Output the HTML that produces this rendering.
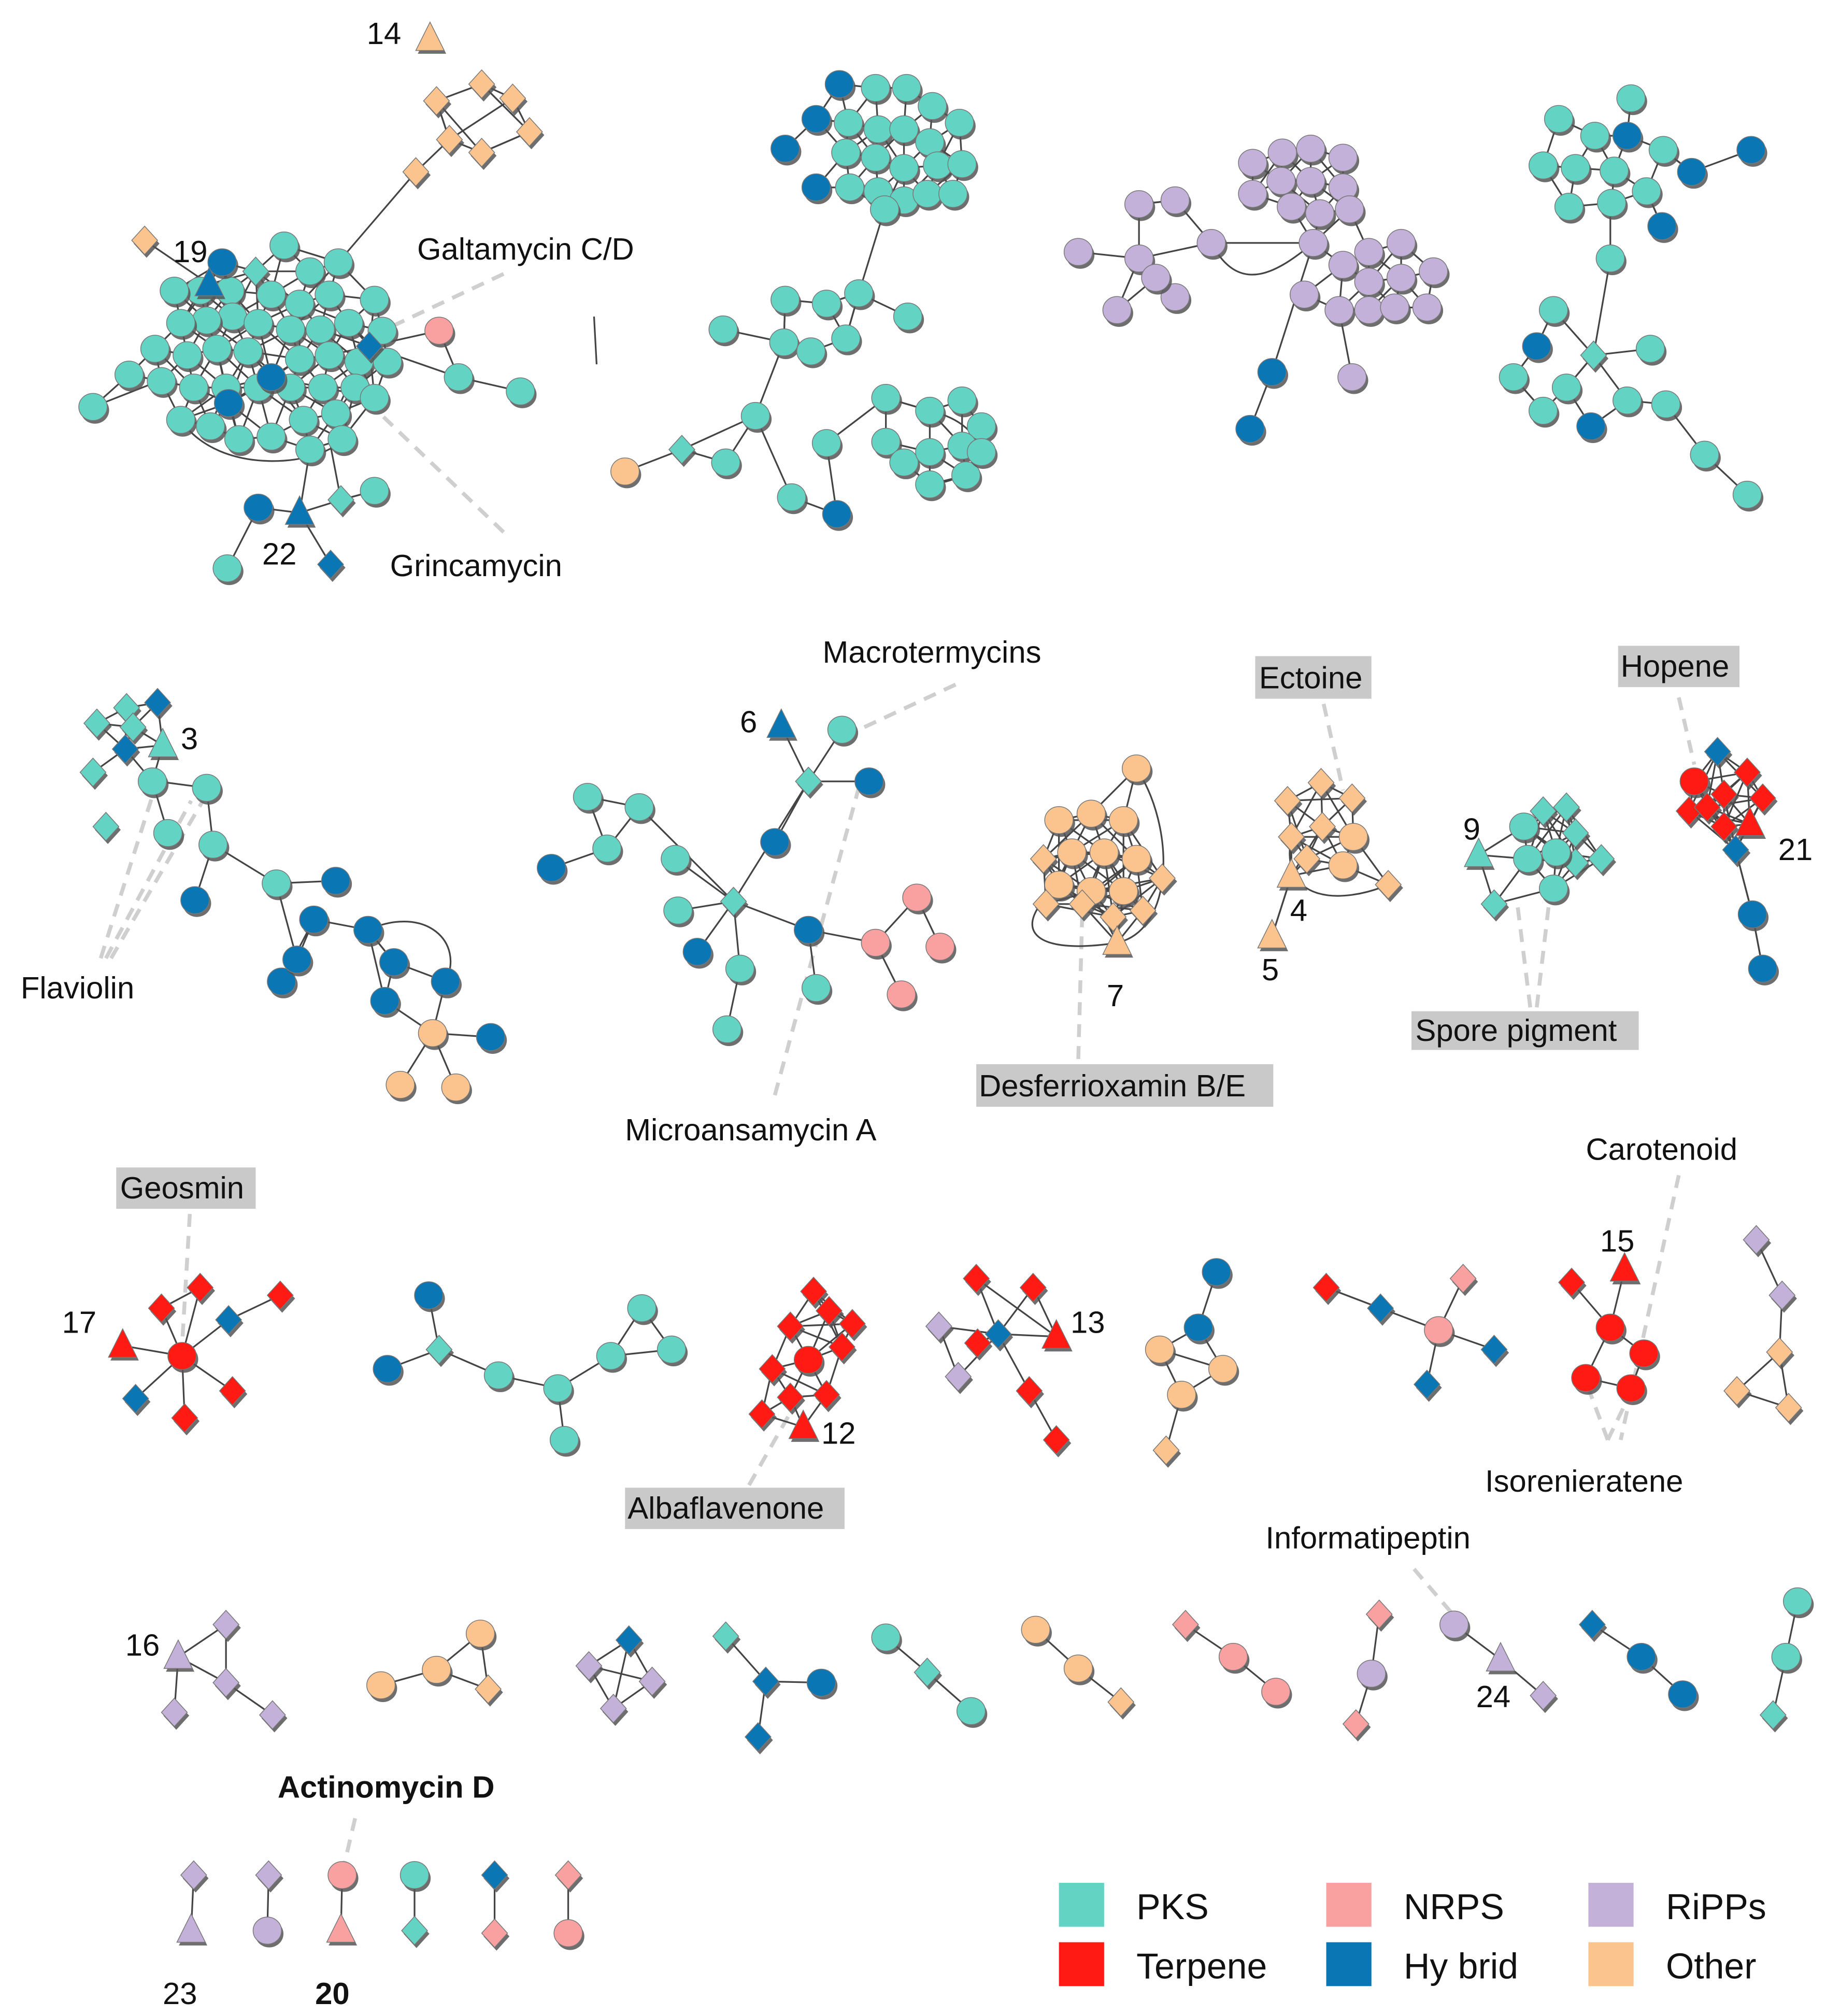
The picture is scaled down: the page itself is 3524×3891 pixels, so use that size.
<!DOCTYPE html>
<html><head><meta charset="utf-8">
<style>
html,body{margin:0;padding:0;background:#fff;}
svg{display:block;}
text{font-family:"Liberation Sans",sans-serif;}
</style></head>
<body>
<svg id="net" width="3524" height="3891" viewBox="0 0 1414 1561" xmlns="http://www.w3.org/2000/svg">
<g id="leaders" stroke="#cfcfcf" stroke-width="3" stroke-dasharray="10 7" fill="none">
<line x1="390" y1="212" x2="292" y2="258"/>
<line x1="390" y1="412" x2="292" y2="318"/>
<line x1="740" y1="530" x2="665" y2="565"/>
<line x1="600" y1="848" x2="665" y2="610"/>
<line x1="1025" y1="545" x2="1040" y2="612"/>
<line x1="1300" y1="540" x2="1312" y2="592"/>
<line x1="835" y1="820" x2="838" y2="710"/>
<line x1="1185" y1="780" x2="1175" y2="700"/>
<line x1="1190" y1="780" x2="1200" y2="695"/>
<line x1="78" y1="742" x2="120" y2="610"/>
<line x1="82" y1="742" x2="148" y2="620"/>
<line x1="86" y1="742" x2="160" y2="615"/>
<line x1="147" y1="940" x2="141" y2="1042"/>
<line x1="580" y1="1150" x2="620" y2="1080"/>
<line x1="1300" y1="910" x2="1255" y2="1115"/>
<line x1="1245" y1="1115" x2="1230" y2="1075"/>
<line x1="1245" y1="1115" x2="1262" y2="1080"/>
<line x1="1095" y1="1215" x2="1125" y2="1250"/>
<line x1="275" y1="1408" x2="267" y2="1442"/>
</g>
<g id="edges" stroke="#444" stroke-width="1.3" fill="none">
<path d="M938,188 C960,230 990,210 1017,188"/>
<path d="M820,685 C780,720 800,740 865,730"/>
<path d="M880,595 C910,640 910,720 865,730"/>
<path d="M1000,648 C990,700 1040,700 1075,685"/>
<path d="M720,318 C770,330 770,370 720,375"/>
<path d="M140,325 C170,370 250,360 265,340"/>
<path d="M285,720 C330,700 360,730 345,760"/>
</g>
<g id="nodes"></g>
<g id="labels" font-size="24" fill="#111">
<text x="284" y="34">14</text>
<text x="323" y="201">Galtamycin C/D</text>
<text x="134" y="203">19</text>
<text x="203" y="437">22</text>
<text x="302" y="446">Grincamycin</text>
<text x="637" y="513">Macrotermycins</text>
<text x="573" y="567">6</text>
<text x="140" y="580">3</text>
<text x="16" y="773">Flaviolin</text>
<text x="484" y="883">Microansamycin A</text>
<rect x="972" y="508" width="90" height="33" fill="#c9c9c9"/>
<text x="975" y="533">Ectoine</text>
<rect x="1253" y="500" width="94" height="32" fill="#c9c9c9"/>
<text x="1255" y="524">Hopene</text>
<text x="1133" y="650">9</text>
<text x="1377" y="666">21</text>
<text x="999" y="713">4</text>
<text x="977" y="759">5</text>
<text x="857" y="779">7</text>
<rect x="1093" y="783" width="176" height="30" fill="#c9c9c9"/>
<text x="1096" y="806">Spore pigment</text>
<rect x="756" y="824" width="230" height="33" fill="#c9c9c9"/>
<text x="758" y="849">Desferrioxamin B/E</text>
<text x="1228" y="898">Carotenoid</text>
<rect x="90" y="904" width="108" height="32" fill="#c9c9c9"/>
<text x="93" y="928">Geosmin</text>
<text x="1239" y="969">15</text>
<text x="48" y="1032">17</text>
<text x="829" y="1032">13</text>
<text x="636" y="1118">12</text>
<text x="1150" y="1155">Isorenieratene</text>
<rect x="484" y="1152" width="170" height="32" fill="#c9c9c9"/>
<text x="486" y="1176">Albaflavenone</text>
<text x="980" y="1199">Informatipeptin</text>
<text x="97" y="1282">16</text>
<text x="1143" y="1322">24</text>
<text x="215" y="1392" font-weight="bold">Actinomycin D</text>
<text x="126" y="1552">23</text>
<text x="244" y="1552" font-weight="bold">20</text>
</g>
<g id="legend" font-size="28" fill="#111"></g>
</svg>
<script>
const typeKeys = ['P','T','N','H','R','O'];
const typeNames = ['PKS','Terpene','NRPS','Hy brid','RiPPs','Other'];
const typeColors = ['#63d4c3','#ff1a14','#f9a1a1','#0a76b3','#c3b1da','#fbc48e'];
const clusters = [
 {id:'cluster-grincamycin',th:44,n:"Ot333,30 Od338,78 Od373,65 Od397,76 Od410,102 Od373,118 Od348,108 Od322,133 Od112,186 Pc220,190 Pc240,210 Pc262,203 Pd198,210 Pc178,225 Pc155,225 Pc135,225 Pc210,228 Pc232,235 Pc255,228 Pc180,245 Pc160,248 Pc140,250 Pc200,250 Pc225,255 Pc248,255 Pc270,250 Pc290,232 Pc296,256 Pc120,270 Pc145,275 Pc168,270 Pc192,272 Pc232,278 Pc255,275 Pc278,280 Pc300,280 Pc100,290 Pc125,295 Pc150,300 Pc175,300 Pc200,300 Pc225,300 Pc250,300 Pc275,300 Pc290,308 Pc140,325 Pc163,330 Pc185,340 Pc210,338 Pc235,325 Pc260,320 Pc240,348 Pc265,340 Pc72,315 Pc355,292 Pc403,303 Pc290,380 Pc176,440 Hc172,203 Hc210,292 Hc177,312 Hc200,393 Ht162,220 Hd286,268 Ht232,397 Hd256,437 Pd264,387 Nc340,256"},
 {id:'cluster-b',th:38,n:"Hc650,65 Hc632,92 Hc608,115 Hc632,145 Hc648,398 Pc678,68 Pc702,68 Pc722,82 Pc743,95 Pc657,95 Pc680,100 Pc700,100 Pc720,110 Pc655,118 Pc678,122 Pc700,130 Pc726,128 Pc745,127 Pc658,145 Pc680,148 Pc700,155 Pc718,150 Pc738,150 Pc685,162 Pc665,227 Pc560,255 Pc607,265 Pc628,272 Pc655,262 Pc640,235 Pc608,232 Pc703,245 Pc585,322 Pc562,358 Pc613,385 Pc640,343 Pc686,308 Pc686,342 Pc720,318 Pc745,310 Pc760,330 Pc700,358 Pc745,345 Pc720,350 Pc720,375 Pc748,368 Pc760,350 Oc484,365 Pd528,348"},
 {id:'cluster-ripps',th:40,n:"Rc970,126 Rc993,118 Rc1015,115 Rc1040,122 Rc992,140 Rc1015,140 Rc1040,145 Rc970,150 Rc1000,160 Rc1022,165 Rc1045,162 Rc1017,188 Rc1040,205 Rc1060,195 Rc1085,188 Rc1110,210 Rc1060,218 Rc1085,215 Rc1037,240 Rc1060,240 Rc1080,238 Rc1105,238 Rc1010,228 Rc1047,292 Rc882,158 Rc910,155 Rc938,188 Rc882,200 Rc835,195 Rc910,230 Rc865,240 Rc895,215 Hc985,288 Hc968,332"},
 {id:'cluster-d',th:38,n:"Pc1263,76 Pc1207,92 Pc1235,105 Hc1260,105 Pc1288,116 Pc1195,128 Pc1220,130 Pc1250,132 Pc1275,148 Pc1215,160 Pc1248,157 Hc1287,175 Hc1310,133 Hc1356,116 Pc1247,200 Pc1203,240 Hc1190,268 Pc1172,292 Pc1213,300 Pd1234,275 Pc1278,270 Pc1260,310 Pc1290,313 Hc1232,330 Pc1195,318 Pc1320,352 Pc1353,383"},
 {id:'cluster-flaviolin',th:34,n:"Pd75,560 Pd98,548 Pd72,598 Pd82,640 Pd103,563 Hd122,544 Hd97,580 Pt126,577 Pc118,605 Pc160,610 Pc130,645 Pc165,654 Hc151,697 Pc214,684 Hc260,682 Hc243,712 Hc285,720 Hc218,760 Hc305,745 Hc298,775 Hc345,760 Oc335,800 Oc310,840 Oc353,842 Hc380,803 Hc230,743"},
 {id:'cluster-macrotermycins',th:20,n:"Ht605,562 Pc652,565 Pd626,605 Hc673,605 Hc600,652 Pd568,698 Pc455,617 Pc495,625 Pc470,657 Pc523,665 Hc427,672 Pc525,705 Hc540,737 Pc573,750 Pc563,797 Hc626,720 Pc632,765 Nc678,730 Nc710,695 Nc728,733 Nc698,770"},
 {id:'cluster-desferrioxamin',th:58,n:"Oc880,595 Oc820,635 Oc845,630 Oc870,635 Oc830,660 Oc855,660 Oc880,665 Oc820,685 Oc845,690 Oc870,690 Od808,665 Od900,680 Od838,700 Od885,705 Od810,700 Od862,710 Ot865,730"},
 {id:'cluster-ectoine',th:52,n:"Od997,620 Od1023,606 Od1047,618 Od1000,648 Od1024,640 Od1012,665 Oc1048,648 Oc1040,670 Ot1000,678 Od1075,685 Ot985,725"},
 {id:'cluster-spore',th:52,n:"Pd1195,628 Pd1213,625 Pd1220,645 Pd1240,665 Pd1157,700 Pd1220,668 Pc1180,640 Pc1183,665 Pc1205,660 Pc1203,688 Pt1145,662"},
 {id:'cluster-hopene',th:52,n:"Hd1330,582 Tc1312,605 Td1353,598 Td1335,615 Td1365,618 Td1308,628 Td1335,640 Tt1355,638 Td1322,625 Hd1344,658 Hc1357,708 Hc1365,750"},
 {id:'cluster-geosmin',th:0,n:"Tc141,1050 Td155,997 Td125,1013 Td217,1003 Td180,1077 Td143,1098 Tt95,1042 Hd177,1022 Hd105,1083"},
 {id:'cluster-pks-chain',th:0,n:"Hc332,1003 Hc300,1060 Pd340,1045 Pc386,1065 Pc432,1075 Pc437,1115 Pc473,1050 Pc497,1013 Pc520,1045"},
 {id:'cluster-albaflavenone',th:50,n:"Td630,1000 Td612,1027 Td642,1015 Td660,1025 Td652,1043 Td598,1060 Td640,1080 Td590,1095 Td612,1082 Tc626,1053 Tt622,1105"},
 {id:'cluster-13',th:0,n:"Td756,990 Td800,997 Td757,1040 Td797,1077 Td818,1115 Hd773,1033 Rd727,1027 Rd742,1066 Tt818,1035"},
 {id:'cluster-other-small',th:0,n:"Hc942,985 Hc928,1028 Oc898,1045 Oc947,1060 Oc915,1080 Od903,1123"},
 {id:'cluster-nrps-star',th:0,n:"Td1027,997 Hd1069,1013 Hd1157,1045 Hd1105,1072 Nc1114,1030 Nd1133,990"},
 {id:'cluster-carotenoid',th:0,n:"Tc1247,1028 Tc1273,1048 Tc1228,1067 Tc1263,1075 Td1217,993 Tt1258,983"},
 {id:'cluster-ripps-other',th:0,n:"Rd1360,960 Rd1380,1003 Od1378,1047 Od1345,1077 Od1385,1090"},
 {id:'cluster-16',th:0,n:"Rt138,1283 Rd175,1258 Rd175,1303 Rd135,1326 Rd211,1328 Oc295,1305 Oc338,1293 Oc372,1265 Od378,1308 Rd456,1290 Rd505,1302 Rd475,1323 Hd487,1270 Pd562,1267 Hd593,1302 Hd587,1345 Hc636,1303 Pc686,1268 Pd718,1295 Pc752,1325 Oc802,1262 Oc835,1292 Od868,1318 Nd918,1258 Nc955,1283 Nc988,1310 Nd1068,1250 Rc1062,1296 Nd1050,1335 Rc1126,1258 Rt1162,1285 Rd1195,1313 Hd1233,1258 Hc1271,1283 Hc1303,1312 Pc1392,1240 Pc1383,1283 Pd1373,1328"},
 {id:'cluster-pairs',th:0,n:"Rd150,1452 Rt148,1495 Rd208,1452 Rc207,1495 Nc265,1452 Nt264,1495 Pc321,1452 Pd321,1495 Hd383,1452 Nd383,1497 Nd440,1452 Nc440,1497"}
];
const extraEdges = "72,315,123,295 355,292,403,303 286,268,340,256 286,268,355,292 200,393,176,440 232,397,256,437 264,387,290,380 232,397,240,348 264,387,255,340 112,186,162,220 322,133,262,203 348,108,338,78 348,108,397,76 373,118,410,102 373,65,410,102 338,78,373,118 460,245,462,282 "+
"665,227,685,162 665,227,640,235 665,227,703,245 665,227,655,262 607,265,585,322 585,322,528,348 528,348,484,365 585,322,562,358 585,322,613,385 640,343,686,308 686,308,720,318 686,342,700,358 640,343,648,398 608,232,607,265 560,255,607,265 "+
"938,188,1017,188 938,188,882,200 938,188,910,155 835,195,882,200 882,200,910,230 882,200,865,240 1017,188,985,288 985,288,968,332 1047,292,1037,240 882,158,910,155 882,158,882,200 "+
"1247,157,1247,200 1247,200,1234,275 1234,275,1203,240 1234,275,1278,270 1234,275,1213,300 1234,275,1260,310 1290,313,1320,352 1320,352,1353,383 1287,175,1275,148 1310,133,1288,116 1356,116,1310,133 1172,292,1195,318 1190,268,1172,292 "+
"122,605,160,610 160,610,165,654 130,645,118,605 165,654,151,697 165,654,214,684 214,684,260,682 214,684,230,743 243,712,285,720 285,720,298,775 285,720,305,745 305,745,345,760 298,775,335,800 335,800,310,840 335,800,353,842 335,800,380,803 218,760,243,712 345,760,335,800 "+
"605,562,626,605 652,565,626,605 626,605,673,605 626,605,600,652 626,605,568,698 568,698,523,665 568,698,525,705 568,698,540,737 568,698,626,720 568,698,495,625 495,625,470,657 455,617,470,657 470,657,427,672 455,617,495,625 573,750,563,797 573,750,568,698 626,720,632,765 626,720,678,730 678,730,710,695 710,695,728,733 678,730,698,770 "+
"1000,678,985,725 1344,658,1357,708 1357,708,1365,750 "+
"141,1050,155,997 141,1050,125,1013 141,1050,177,1022 177,1022,217,1003 141,1050,180,1077 141,1050,143,1098 141,1050,95,1042 141,1050,105,1083 125,1013,155,997 "+
"332,1003,340,1045 300,1060,340,1045 340,1045,386,1065 386,1065,432,1075 432,1075,437,1115 432,1075,473,1050 473,1050,497,1013 473,1050,520,1045 497,1013,520,1045 "+
"773,1033,756,990 773,1033,800,997 773,1033,757,1040 773,1033,818,1035 773,1033,797,1077 797,1077,818,1115 727,1027,742,1066 727,1027,773,1033 742,1066,773,1033 800,997,818,1035 756,990,818,1035 "+
"942,985,928,1028 928,1028,898,1045 928,1028,947,1060 898,1045,947,1060 898,1045,915,1080 947,1060,915,1080 915,1080,903,1123 "+
"1027,997,1069,1013 1069,1013,1114,1030 1114,1030,1133,990 1114,1030,1157,1045 1114,1030,1105,1072 "+
"1217,993,1247,1028 1258,983,1247,1028 1247,1028,1228,1067 1247,1028,1273,1048 1228,1067,1263,1075 1273,1048,1263,1075 "+
"1360,960,1380,1003 1380,1003,1378,1047 1378,1047,1345,1077 1378,1047,1385,1090 1345,1077,1385,1090 "+
"138,1283,175,1258 138,1283,175,1303 138,1283,135,1326 175,1303,211,1328 175,1258,175,1303 295,1305,338,1293 338,1293,372,1265 338,1293,378,1308 372,1265,378,1308 456,1290,487,1270 456,1290,505,1302 456,1290,475,1323 487,1270,505,1302 505,1302,475,1323 487,1270,475,1323 562,1267,593,1302 593,1302,587,1345 593,1302,636,1303 686,1268,718,1295 718,1295,752,1325 802,1262,835,1292 835,1292,868,1318 918,1258,955,1283 955,1283,988,1310 1068,1250,1062,1296 1062,1296,1050,1335 1126,1258,1162,1285 1162,1285,1195,1313 1233,1258,1271,1283 1271,1283,1303,1312 1392,1240,1383,1283 1383,1283,1373,1328 "+
"150,1452,148,1495 208,1452,207,1495 265,1452,264,1495 321,1452,321,1495 383,1452,383,1497 440,1452,440,1497";

const NS='http://www.w3.org/2000/svg';
const eG=document.getElementById('edges'), nG=document.getElementById('nodes');
function mk(tag,attrs,parent){const e=document.createElementNS(NS,tag);for(const k in attrs)e.setAttribute(k,attrs[k]);parent.appendChild(e);return e;}
function shapeAttrs(s,x,y){
  if(s==='c') return ['ellipse',{cx:x,cy:y,rx:11,ry:10.5}];
  if(s==='d') return ['polygon',{points:`${x},${y-11} ${x+10},${y} ${x},${y+11} ${x-10},${y}`}];
  return ['polygon',{points:`${x},${y-13} ${x+11},${y+9} ${x-11},${y+9}`}];
}
clusters.forEach(c=>{
  const pts=[...c.n.matchAll(/([PTNHRO])([cdt])(\d+),(\d+)/g)].map(m=>[+m[3],+m[4]]);
  if(c.th>0){
    for(let i=0;i<pts.length;i++)for(let j=i+1;j<pts.length;j++){
      const d=Math.hypot(pts[i][0]-pts[j][0],pts[i][1]-pts[j][1]);
      if(d<c.th){
        const l=mk('line',{x1:pts[i][0],y1:pts[i][1],x2:pts[j][0],y2:pts[j][1]},eG);
        
        
      }
    }
  }
});
extraEdges.trim().split(/\s+/).forEach(s=>{
  const v=s.split(',').map(Number);
  const l=mk('line',{x1:v[0],y1:v[1],x2:v[2],y2:v[3]},eG);
  
  
});
clusters.forEach(c=>{
  const g=mk('g',{},nG);
  
  
  for(const m of c.n.matchAll(/([PTNHRO])([cdt])(\d+),(\d+)/g)){
    const col=typeColors[typeKeys.indexOf(m[1])];
    const x=+m[3],y=+m[4];
    const [tg,a]=shapeAttrs(m[2],x+1.5,y+2.5);
    mk(tg,Object.assign({fill:'#555','fill-opacity':0.85},a),g);
    const [tg2,a2]=shapeAttrs(m[2],x,y);
    const el=mk(tg2,Object.assign({fill:col,stroke:'#777','stroke-width':0.6},a2),g);
    
    
  }
});
const lg=document.getElementById('legend');
const legX=[820,1027,1230], legY=[1458,1504];
typeNames.forEach((nm,i)=>{
  const cx=legX[Math.floor(i/2)], cy=legY[i%2];
  const r=mk('rect',{x:cx,y:cy,width:35,height:34,fill:typeColors[i]},lg);
  
  
  const t=mk('text',{x:cx+60,y:cy+28},lg);
  t.textContent=nm;
  
  
});
</script>
</body></html>
